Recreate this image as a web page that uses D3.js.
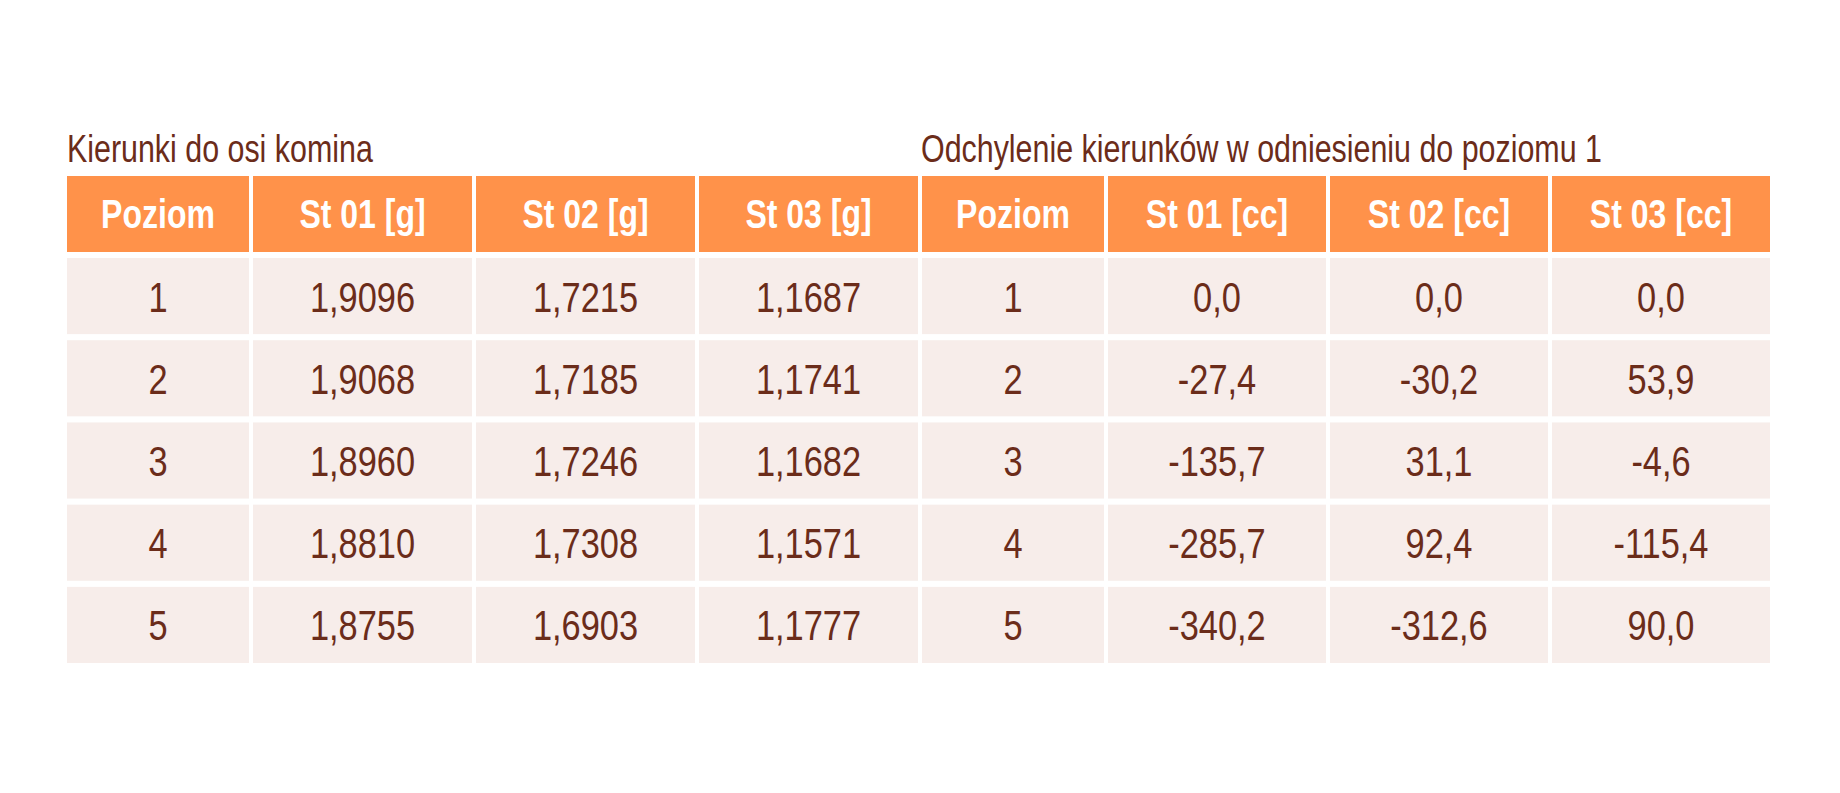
<!DOCTYPE html>
<html><head><meta charset="utf-8">
<script src="https://cdn.jsdelivr.net/npm/d3@7"></script>
<style>body{margin:0;background:#fff}</style></head>
<body><svg id="c" width="1840" height="793"></svg>
<script>
const titleLeft = "Kierunki do osi komina";
const titleRight = "Odchylenie kierunków w odniesieniu do poziomu 1";
const headers = ["Poziom","St 01 [g]","St 02 [g]","St 03 [g]","Poziom","St 01 [cc]","St 02 [cc]","St 03 [cc]"];
const levels = ["1","2","3","4","5"];
const st01g = ["1,9096","1,9068","1,8960","1,8810","1,8755"];
const st02g = ["1,7215","1,7185","1,7246","1,7308","1,6903"];
const st03g = ["1,1687","1,1741","1,1682","1,1571","1,1777"];
const st01cc = ["0,0","-27,4","-135,7","-285,7","-340,2"];
const st02cc = ["0,0","-30,2","31,1","92,4","-312,6"];
const st03cc = ["0,0","53,9","-4,6","-115,4","90,0"];

const rows = levels.map((l,i)=>[l,st01g[i],st02g[i],st03g[i],l,st01cc[i],st02cc[i],st03cc[i]]);
const svg = d3.select("#c");
const font = "'Liberation Sans',Arial,sans-serif";
const textCol = "#6B2C1A";
const sx = 0.8;
const widths = [182,219,219,219,182,218,218,218];
const gap = 4, x0 = 67;
const xs = []; let acc = x0;
widths.forEach(w=>{xs.push(acc); acc += w + gap;});
const headTop = 176, headH = 76, rowGap = 6, rowH = 75;
const y = d3.scaleBand().domain(d3.range(rows.length)).range([headTop+headH+rowGap, headTop+headH+rowGap+rows.length*(rowH+rowGap)]).paddingInner(rowGap/(rowH+rowGap));

function txt(g,x,yy,s,size,opts){
  const t = g.append("text").attr("transform",`translate(${x},${yy}) scale(${sx},1)`)
    .attr("font-family",font).attr("font-size",size).attr("fill",opts.fill||textCol).text(s);
  if(opts.anchor) t.attr("text-anchor",opts.anchor);
  if(opts.dy) t.attr("dy",opts.dy);
  if(opts.bold) t.attr("font-weight","bold");
  return t;
}
txt(svg,67,162,titleLeft,38,{});
txt(svg,921,162,titleRight,38,{});

headers.forEach((h,j)=>{
  svg.append("rect").attr("x",xs[j]).attr("y",headTop).attr("width",widths[j]).attr("height",headH).attr("fill","#FF924A");
  txt(svg,xs[j]+widths[j]/2,headTop+headH/2,h,40,{anchor:"middle",dy:"0.36em",bold:true,fill:"#fff"});
});
rows.forEach((r,i)=>{
  r.forEach((v,j)=>{
    svg.append("rect").attr("x",xs[j]).attr("y",y(i)).attr("width",widths[j]).attr("height",y.bandwidth()).attr("fill","#F7EDEA");
    txt(svg,xs[j]+widths[j]/2,y(i)+y.bandwidth()/2,v,43,{anchor:"middle",dy:"0.36em"});
  });
});
</script></body></html>
